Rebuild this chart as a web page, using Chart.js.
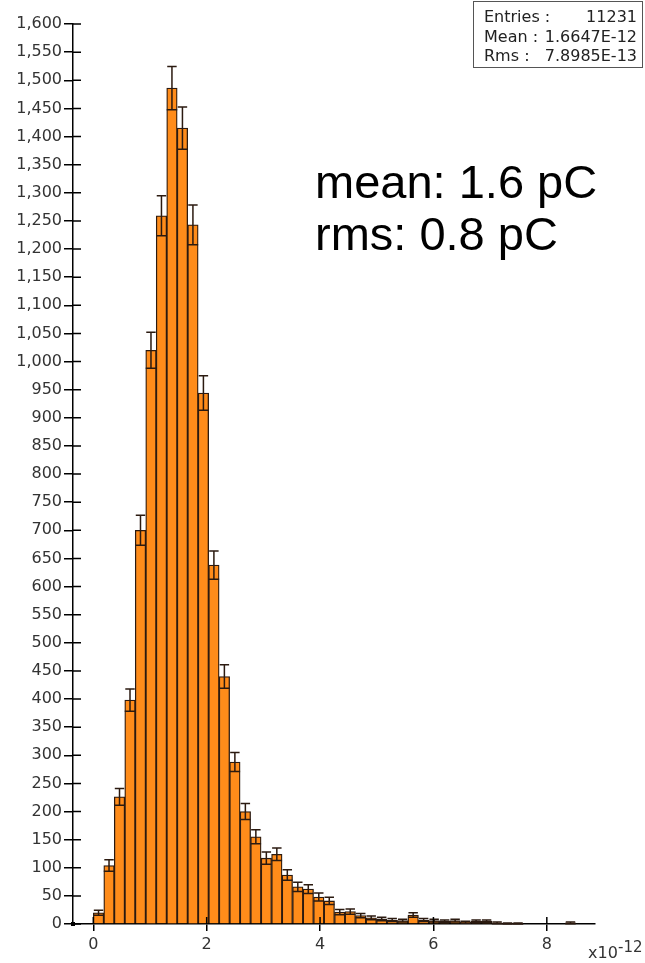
<!DOCTYPE html>
<html>
<head>
<meta charset="utf-8">
<title>Charge histogram</title>
<script src="https://cdn.jsdelivr.net/npm/chart.js@4.4.1/dist/chart.umd.min.js"></script>
<style>
  body { margin: 0; background: #fff; }
  #wrap { position: relative; width: 645px; height: 963px; }
</style>
</head>
<body>
<div id="wrap"><canvas id="histo" width="645" height="963"></canvas></div>
<script>
'use strict';

// Histogram data (x in units of 1e-12 C)
var binStart = 0;
var binWidth = 0.185;
var counts = [
  20, 104, 226, 398, 700, 1020, 1259, 1486, 1415, 1243,
  944, 638, 440, 288, 200, 155, 117, 124, 87, 66,
  62, 48, 41, 21, 22, 15, 11, 9, 7, 6,
  16, 7, 6, 5, 6, 3, 5, 5, 2, 1,
  1, 0, 0, 0, 0, 2, 0, 0
];
var xMin = -0.358;
var xMax = 8.85;
var xStep = 2;
var yMax = 1600;
var yStep = 50;

// Stats box and notes
var statLabels = ['Entries :', 'Mean :', 'Rms :'];
var statValues = ['11231', '1.6647E-12', '7.8985E-13'];
var noteLines = ['mean: 1.6 pC', 'rms: 0.8 pC'];

var lineColor = '#2b1a10';

// bin centres
var points = [];
for (var i = 0; i < counts.length; i++) {
  points.push({ x: binStart + (i + 0.5) * binWidth, y: counts[i] });
}

// error bars: box from N-sqrt(N) to the top, whisker up to N+sqrt(N)
var errorBars = {
  id: 'errorBars',
  afterDatasetsDraw: function (chart) {
    var meta = chart.getDatasetMeta(0);
    var yScale = chart.scales.y;
    var ctx = chart.ctx;
    ctx.save();
    ctx.strokeStyle = lineColor;
    ctx.lineWidth = 1.5;
    meta.data.forEach(function (bar, i) {
      var n = counts[i];
      if (n <= 0) return;
      var err = Math.sqrt(n);
      var half = bar.width / 2;
      var yLow = yScale.getPixelForValue(Math.max(n - err, 0));
      var yHigh = yScale.getPixelForValue(n + err);
      ctx.beginPath();
      ctx.moveTo(bar.x - half, yLow);
      ctx.lineTo(bar.x + half, yLow);
      ctx.moveTo(bar.x, yLow);
      ctx.lineTo(bar.x, yHigh);
      ctx.moveTo(bar.x - half * 0.9, yHigh);
      ctx.lineTo(bar.x + half * 0.9, yHigh);
      ctx.stroke();
    });
    ctx.restore();
  }
};

// inner tick stubs, exponent label, stats box, notes
var extras = {
  id: 'extras',
  afterDraw: function (chart) {
    var ctx = chart.ctx;
    var xs = chart.scales.x;
    var ys = chart.scales.y;
    var area = chart.chartArea;
    ctx.save();
    ctx.strokeStyle = '#000';
    ctx.lineWidth = 1.5;
    ctx.beginPath();
    xs.ticks.forEach(function (t) {
      var px = xs.getPixelForValue(t.value);
      ctx.moveTo(px, area.bottom);
      ctx.lineTo(px, area.bottom - 7);
    });
    ys.ticks.forEach(function (t) {
      var py = ys.getPixelForValue(t.value);
      ctx.moveTo(area.left, py);
      ctx.lineTo(area.left + 8, py);
    });
    ctx.stroke();
    ctx.fillStyle = '#000';
    ctx.fillRect(area.left - 2, area.bottom - 2, 4, 4);

    // x10^-12
    ctx.fillStyle = '#333';
    ctx.textBaseline = 'alphabetic';
    ctx.textAlign = 'left';
    ctx.font = '16px "DejaVu Sans"';
    ctx.fillText('x10', 588, 958);
    ctx.font = '15px "DejaVu Sans"';
    ctx.fillText('-12', 618, 952);

    // stats box
    ctx.fillStyle = '#fff';
    ctx.fillRect(473.5, 1.5, 169, 66);
    ctx.strokeStyle = '#555';
    ctx.lineWidth = 1;
    ctx.strokeRect(473.5, 1.5, 169, 66);
    ctx.fillStyle = '#222';
    ctx.font = '16px "DejaVu Sans"';
    for (var k = 0; k < statLabels.length; k++) {
      var by = 22 + k * 19.5;
      ctx.textAlign = 'left';
      ctx.fillText(statLabels[k], 484, by);
      ctx.textAlign = 'right';
      ctx.fillText(statValues[k], 637, by);
    }

    // notes
    ctx.fillStyle = '#000';
    ctx.textAlign = 'left';
    ctx.font = '47px "Liberation Sans"';
    for (var m = 0; m < noteLines.length; m++) {
      ctx.fillText(noteLines[m], 315, 198 + m * 52);
    }
    ctx.restore();
  }
};

Chart.defaults.font.family = '"DejaVu Sans"';

var ctx = document.getElementById('histo').getContext('2d');
var histoChart = new Chart(ctx, {
  type: 'bar',
  data: {
    datasets: [{
      data: points,
      backgroundColor: '#ff8c1a',
      borderColor: lineColor,
      borderWidth: 1.3,
      barPercentage: 1,
      categoryPercentage: 1
    }]
  },
  options: {
    responsive: false,
    animation: false,
    layout: { padding: { top: 24, right: 50, left: 0, bottom: 0 } },
    plugins: {
      legend: { display: false },
      tooltip: { enabled: false }
    },
    scales: {
      x: {
        type: 'linear',
        min: xMin,
        max: xMax,
        offset: false,
        border: { display: true, color: '#000', width: 1.5 },
        grid: { display: true, drawOnChartArea: false, offset: false, tickLength: 7, color: '#000', lineWidth: 1.5 },
        ticks: {
          stepSize: xStep,
          includeBounds: false,
          maxRotation: 0,
          padding: 4,
          color: '#333',
          font: { size: 16 }
        },
        afterFit: function (scale) { scale.height = 39; }
      },
      y: {
        min: 0,
        max: yMax,
        border: { display: true, color: '#000', width: 1.5 },
        grid: { display: true, drawOnChartArea: false, tickLength: 9, color: '#000', lineWidth: 1.5 },
        ticks: {
          stepSize: yStep,
          padding: 2,
          color: '#333',
          font: { size: 16 },
          callback: function (v) { return v.toLocaleString('en-US'); }
        },
        afterFit: function (scale) { scale.width = 73; }
      }
    }
  },
  plugins: [errorBars, extras]
});
</script>
</body>
</html>
